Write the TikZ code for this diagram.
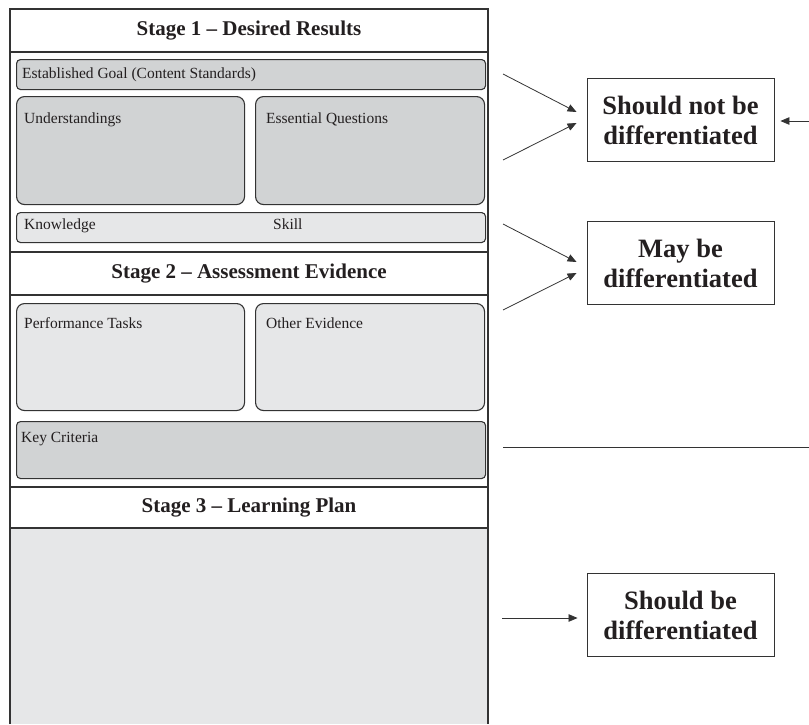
\documentclass[tikz,border=0pt]{standalone}
\usepackage{fontspec}
\setmainfont{Liberation Serif}
\definecolor{ubdline}{HTML}{333333}
\definecolor{ubdtext}{HTML}{231F20}
\definecolor{ubddark}{HTML}{D1D3D4}
\definecolor{ubdlight}{HTML}{E6E7E8}
\usetikzlibrary{arrows.meta, positioning, calc}

\begin{document}
\begin{tikzpicture}[x=1pt, y=-1pt,
  cell/.style={draw=ubdline, line width=1.1pt, rounded corners=8pt, inner sep=0pt,
               anchor=north west},
  strip/.style={cell, rounded corners=4pt},
  boxlbl/.style={font=\fontsize{15.5}{17}\selectfont, text=ubdtext, anchor=base west, inner sep=0pt},
  stagehd/.style={font=\fontsize{21}{24}\selectfont\bfseries, text=ubdtext},
  verdict/.style={draw=ubdline, line width=0.9pt, minimum width=187pt, minimum height=83pt,
                  align=center, inner sep=2pt, text=ubdtext,
                  font=\fontsize{26.5}{30}\selectfont\bfseries},
  pointer/.style={draw=ubdline, line width=0.8pt, -{Triangle[length=9pt,width=7.5pt]}},
]
  \useasboundingbox (0,0) rectangle (809,724);

  % template frame
  \fill[ubdlight] (10,528) rectangle (488,724);
  \draw[ubdline, line width=1.5pt] (10,724) -- (10,9) -- (488,9) -- (488,724);
  \foreach \y in {52,252,295,487,528}
    \draw[ubdline, line width=1.5pt] (10,\y) -- (488,\y);

  \node[stagehd] (st1) at (249,30.5)  {Stage 1 – Desired Results};
  \node[stagehd] (st2) at (249,273.5) {Stage 2 – Assessment Evidence};
  \node[stagehd] (st3) at (249,507.5) {Stage 3 – Learning Plan};

  % stage 1
  \node[strip, fill=ubddark, minimum width=469pt, minimum height=30pt] (goal) at (16,59) {};
  \node[boxlbl] (goaltx) at (22,78) {Established Goal (Content Standards)};
  \node[cell, fill=ubddark, minimum width=228pt, minimum height=108pt] (und) at (16,96) {};
  \node[boxlbl] (undtx) at (24,123) {Understandings};
  \node[cell, fill=ubddark, minimum width=229pt, minimum height=108pt] (eq) at (255,96) {};
  \node[boxlbl] (eqtx) at (266,123) {Essential Questions};
  \node[strip, fill=ubdlight, minimum width=469pt, minimum height=30pt] (ks) at (16,212) {};
  \node[boxlbl] (kntx) at (24,229) {Knowledge};
  \node[boxlbl] (sktx) at (273,229) {Skill};

  % stage 2
  \node[cell, fill=ubdlight, minimum width=228pt, minimum height=107pt] (perf) at (16,303) {};
  \node[boxlbl] (perftx) at (24,328) {Performance Tasks};
  \node[cell, fill=ubdlight, minimum width=229pt, minimum height=107pt] (oth) at (255,303) {};
  \node[boxlbl] (othtx) at (266,328) {Other Evidence};
  \node[strip, fill=ubddark, minimum width=469pt, minimum height=57pt] (crit) at (16,421) {};
  \node[boxlbl] (crittx) at (21,442) {Key Criteria};

  % verdicts
  \node[verdict] (snot)   at (680.5,120) {Should not be\\differentiated};
  \node[verdict] (may)    at (680.5,263) {May be\\differentiated};
  \node[verdict] (should) at (680.5,615) {Should be\\differentiated};

  \coordinate (a1) at (503,74);
  \coordinate (a2) at (503,160);
  \coordinate (a3) at (809,121);
  \coordinate (b1) at (503,224);
  \coordinate (b2) at (503,310);
  \coordinate (k1) at (503,447.5);
  \coordinate (k2) at (809,447.5);
  \coordinate (c1) at (502,618);

  \draw[pointer] (a1) -- ([shift={(-10,-8)}]snot.west);
  \draw[pointer] (a2) -- ([shift={(-10,3)}]snot.west);
  \draw[pointer] (a3) -- ([xshift=6pt]a3 -| snot.east);
  \draw[pointer] (b1) -- ([shift={(-10,-1)}]may.west);
  \draw[pointer] (b2) -- ([shift={(-10,10)}]may.west);
  \draw[ubdline, line width=0.9pt] (k1) -- (k2);
  \draw[pointer] (c1) -- ([xshift=-9pt]c1 -| should.west);
\end{tikzpicture}
\end{document}
